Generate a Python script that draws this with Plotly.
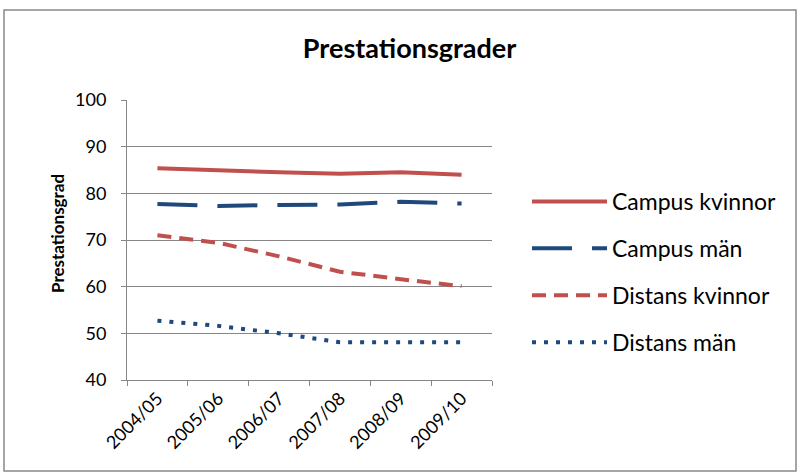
import plotly.graph_objects as go

years = ["2004/05", "2005/06", "2006/07", "2007/08", "2008/09", "2009/10"]
campus_kvinnor = [85.4, 84.9, 84.5, 84.2, 84.5, 84.0]
campus_man = [77.7, 77.3, 77.5, 77.6, 78.2, 77.8]
distans_kvinnor = [71.0, 69.4, 66.5, 63.2, 61.6, 60.1]
distans_man = [52.7, 51.6, 50.0, 48.1, 48.1, 48.1]

RED = "#C0504D"
BLUE = "#1F497D"
FONT = "Lato, 'Open Sans', sans-serif"

series = [
    ("Campus kvinnor", campus_kvinnor, RED, "solid"),
    ("Campus män", campus_man, BLUE, "40px,20px"),
    ("Distans kvinnor", distans_kvinnor, RED, "14px,8px"),
    ("Distans män", distans_man, BLUE, "4px,8px"),
]

fig = go.Figure()
for i, (name, vals, col, dash) in enumerate(series):
    fig.add_trace(go.Scatter(
        x=years, y=vals, name=name, mode="lines",
        line=dict(color=col, width=4, dash=dash),
        legendgroup=f"g{i}",
    ))

L, R, T, B = 127, 308, 100, 95
pw, ph = 800 - L - R, 475 - T - B

def px(x):
    return (x - L) / pw

def py(y):
    return (475 - B - y) / ph

fig.update_layout(
    width=800, height=475,
    margin=dict(l=L, r=R, t=T, b=B),
    paper_bgcolor="white", plot_bgcolor="white",
    font=dict(family=FONT, color="black"),
    title=dict(text="<b>Prestationsgrader</b>", x=0.512, xanchor="center",
               y=1 - 49 / 475, yanchor="middle", yref="container",
               font=dict(size=27, family=FONT)),
    showlegend=True,
    legend=dict(x=px(527), xanchor="left", y=py(180), yanchor="top",
                font=dict(size=23, family=FONT), itemwidth=75,
                traceorder="grouped", tracegroupgap=14,
                bgcolor="rgba(0,0,0,0)"),
    xaxis=dict(
        showline=True, linecolor="#868686", linewidth=1,
        ticks="outside", ticklen=5, tickcolor="#868686",
        tickson="boundaries", tickangle=-45,
        tickfont=dict(size=18, family=FONT),
        showgrid=False, range=[-0.5, 5.5],
    ),
    yaxis=dict(
        range=[40, 100], dtick=10, showgrid=True, gridcolor="#868686",
        gridwidth=1, showline=True, linecolor="#868686", linewidth=1,
        ticks="outside", ticklen=5, tickcolor="#868686",
        tickfont=dict(size=18, family=FONT), ticklabelstandoff=11,
        zeroline=False,
    ),
    shapes=[dict(type="rect", xref="paper", yref="paper",
                 x0=px(4), x1=px(796), y0=py(471), y1=py(10),
                 line=dict(color="#888888", width=1.5), layer="below")],
    annotations=[dict(text="<b>Prestationsgrad</b>", xref="paper", yref="paper",
                      x=px(57), y=py(234), xanchor="center", yanchor="middle",
                      textangle=-90, showarrow=False,
                      font=dict(size=17, family=FONT))],
)

fig.write_html("out.html", config={"displayModeBar": False},
               post_script="document.body.style.margin='0px';")
